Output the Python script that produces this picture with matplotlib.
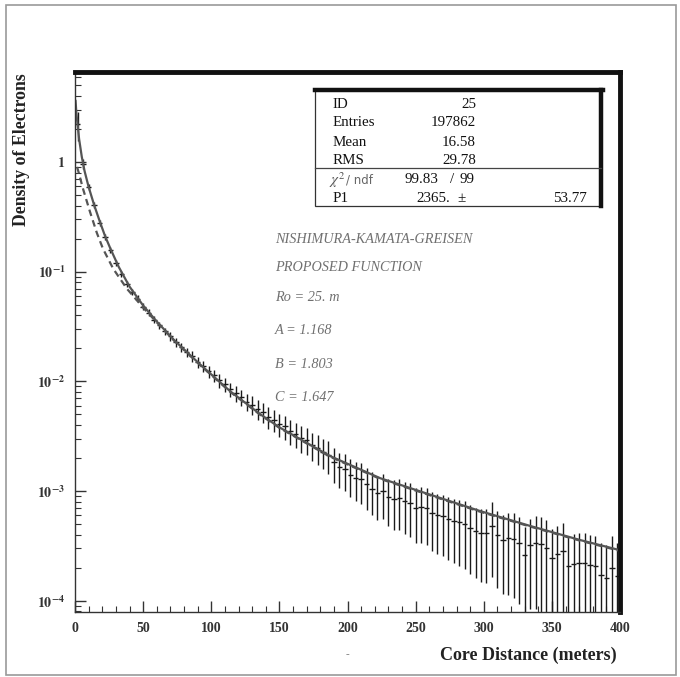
import numpy as np
import matplotlib
matplotlib.use("Agg")
import matplotlib.pyplot as plt
from matplotlib.patches import Rectangle
from matplotlib.lines import Line2D
from matplotlib.ticker import FixedLocator, FixedFormatter, MultipleLocator, LogLocator, NullFormatter

plt.rcParams['font.family'] = ['Liberation Serif', 'DejaVu Serif']
plt.rcParams['mathtext.fontset'] = 'stix'

# bin centres (4 m bins, 0-400 m)
bin_centers = np.arange(2, 400, 4)

# electron density per bin
density = [
    2.216, 0.959, 0.592, 0.4065, 0.279, 0.208, 0.1585, 0.1207, 0.0959, 0.0778,
    0.0658, 0.0568, 0.0481, 0.0424, 0.0366, 0.0323, 0.0285, 0.0257, 0.0226, 0.0204,
    0.01835, 0.01688, 0.01488, 0.01369, 0.01233, 0.01134, 0.01021, 0.00939, 0.00846, 0.00778,
    0.00715, 0.00652, 0.00615, 0.00558, 0.00525, 0.00475, 0.00447, 0.00405, 0.00390, 0.00352,
    0.00332, 0.00306, 0.00293, 0.00264, 0.00248, 0.00228, 0.00214, 0.00184, 0.00165, 0.00158,
    0.00141, 0.00132, 0.00128, 0.00115, 0.00105, 0.000965, 0.001, 0.000882, 0.000846, 0.000864,
    0.000811, 0.000778, 0.0007, 0.000715, 0.000698, 0.000631, 0.000605, 0.000592, 0.000556, 0.000534,
    0.000523, 0.000501, 0.000461, 0.000433, 0.000415, 0.000412, 0.00048, 0.000398, 0.000358, 0.000374,
    0.000366, 0.000337, 0.000262, 0.000323, 0.000335, 0.00033, 0.000303, 0.000246, 0.000268, 0.000285,
    0.000208, 0.000217, 0.000222, 0.00022, 0.000212, 0.000207, 0.000172, 0.000162, 0.0002, 0.000169,
]

# relative size of the error bars
rel_err = [
    0.30, 0.10, 0.06, 0.06, 0.06, 0.06, 0.06, 0.06, 0.06, 0.06,
    0.06, 0.07, 0.07, 0.07, 0.08, 0.08, 0.08, 0.09, 0.09, 0.10,
    0.10, 0.11, 0.11, 0.12, 0.13, 0.13, 0.14, 0.15, 0.15, 0.16,
    0.17, 0.18, 0.19, 0.20, 0.21, 0.22, 0.23, 0.24, 0.25, 0.26,
    0.26, 0.27, 0.28, 0.29, 0.30, 0.31, 0.33, 0.35, 0.36, 0.37,
    0.38, 0.39, 0.40, 0.41, 0.42, 0.43, 0.44, 0.46, 0.48, 0.49,
    0.50, 0.51, 0.52, 0.53, 0.54, 0.55, 0.56, 0.57, 0.58, 0.59,
    0.60, 0.61, 0.62, 0.63, 0.64, 0.65, 0.66, 0.67, 0.68, 0.70,
    0.71, 0.72, 0.80, 0.74, 0.75, 0.76, 0.78, 0.85, 0.80, 0.81,
    0.88, 0.86, 0.86, 0.87, 0.88, 0.90, 0.95, 0.97, 0.93, 0.98,
]

# fitted "proposed function" (solid)
fit_x = [0.4, 1, 2, 3, 5, 7, 10, 14, 18, 22, 26, 32, 40, 50, 60, 73, 92, 114, 136, 150,
         187, 224, 261, 297, 334, 371, 400]
fit_y = [3.6, 2.8, 2.12, 1.62, 1.11, 0.828, 0.592, 0.4065, 0.291, 0.212, 0.162, 0.111,
         0.0731, 0.0491, 0.0351, 0.0236, 0.0142, 0.0081, 0.00501, 0.00381,
         0.00209, 0.00131, 0.000924, 0.000659, 0.000481, 0.000357, 0.000289]

# Nishimura-Kamata-Greisen (dashed)
nkg_x = [1.5, 3, 5.9, 11, 16, 20.5, 28, 38, 50, 60, 73, 92, 114, 136, 150,
         187, 224, 261, 297, 334, 371, 400]
nkg_y = [0.90, 0.778, 0.568, 0.351, 0.226, 0.162, 0.1065, 0.0701, 0.047, 0.0345, 0.0233,
         0.0140, 0.0080, 0.00495, 0.00377, 0.00206, 0.00129, 0.000912, 0.00065, 0.000475,
         0.000352, 0.000285]

W, H = 680, 677
fig = plt.figure(figsize=(W / 100, H / 100), dpi=100)
fig.patch.set_facecolor('white')


def fx(px):
    return px / W


def fy(py):
    return 1 - py / H


ax = fig.add_axes([fx(75), fy(612), 545 / W, 540 / H])

dens = np.array(density)
err = dens * np.array(rel_err)
lower = np.minimum(err, dens - 1e-6)
ax.errorbar(bin_centers, dens, yerr=[lower, err], xerr=2, fmt='none',
            ecolor='#1a1a1a', elinewidth=1.0, capsize=0)

ax.plot(fit_x, fit_y, color='#555555', lw=1.6)
ax.plot(nkg_x, nkg_y, color='#555555', lw=1.6, dashes=(3, 2))

ax.set_yscale('log')
ax.set_xlim(0, 400)
ax.set_ylim(7.9e-5, 6.6)

ax.xaxis.set_major_locator(MultipleLocator(50))
ax.xaxis.set_minor_locator(MultipleLocator(10))
ax.yaxis.set_major_locator(FixedLocator([1e-4, 1e-3, 1e-2, 1e-1, 1]))
ax.yaxis.set_major_formatter(FixedFormatter([r'$\mathbf{10^{-4}}$', r'$\mathbf{10^{-3}}$',
                                             r'$\mathbf{10^{-2}}$', r'$\mathbf{10^{-1}}$',
                                             r'$\mathbf{1}$']))
ax.yaxis.set_minor_locator(LogLocator(base=10, subs=np.arange(2, 10)))
ax.yaxis.set_minor_formatter(NullFormatter())

ax.tick_params(which='both', direction='in', top=False, right=False, colors='#333333')
ax.tick_params(which='major', length=8, width=1.0, labelsize=10)
ax.tick_params(which='minor', length=4, width=0.8)
ax.tick_params(axis='x', pad=7)
ax.tick_params(axis='y', pad=7)
for lab in ax.get_xticklabels():
    lab.set_fontweight('bold')

for s in ['left', 'bottom']:
    ax.spines[s].set_linewidth(1.0)
    ax.spines[s].set_color('#333333')
for s in ['top', 'right']:
    ax.spines[s].set_linewidth(3.5)
    ax.spines[s].set_color('#111111')

# axis titles
fig.text(fx(22), fy(150), 'Density of Electrons', rotation=90, ha='center', va='center',
         fontsize=12.8, fontweight='bold', color='#222222')
fig.text(fx(617), fy(655), 'Core Distance (meters)', ha='right', va='center',
         fontsize=13, fontweight='bold', color='#222222')
fig.text(fx(347), fy(655), '-', ha='center', va='center', fontsize=8, color='#777777')

# annotations
notes = ['NISHIMURA-KAMATA-GREISEN', 'PROPOSED FUNCTION', 'Ro = 25. m',
         'A = 1.168', 'B = 1.803', 'C = 1.647']
note_y = [240, 268, 298, 330, 364, 397]
for t, yy in zip(notes, note_y):
    fig.text(fx(275), fy(yy), t, ha='left', va='center', fontsize=10.3,
             style='italic', color='#707070')

# statistics box
box_l, box_r, box_t, box_b = 315, 601, 90, 206
fig.add_artist(Rectangle((fx(box_l), fy(box_b)), (box_r - box_l) / W, (box_b - box_t) / H,
                         transform=fig.transFigure, facecolor='white',
                         edgecolor='#333333', lw=0.9))
fig.add_artist(Line2D([fx(box_l), fx(box_r + 2)], [fy(box_t), fy(box_t)],
                      transform=fig.transFigure, color='#111111', lw=3.2))
fig.add_artist(Line2D([fx(box_r), fx(box_r)], [fy(box_t), fy(box_b)],
                      transform=fig.transFigure, color='#111111', lw=3.2))
fig.add_artist(Line2D([fx(box_l), fx(box_r)], [fy(168), fy(168)],
                      transform=fig.transFigure, color='#444444', lw=0.9))

fs = 10.8
stat_names = ['ID', 'Entries', 'Mean', 'RMS']
stat_vals = ['25', '197862', '16.58', '29.78']
stat_y = [104, 123, 142, 161]
for n, v, yy in zip(stat_names, stat_vals, stat_y):
    fig.text(fx(333), fy(yy), n, ha='left', va='center', fontsize=fs, color='#111111')
    fig.text(fx(476), fy(yy), v, ha='right', va='center', fontsize=fs, color='#111111')

fig.text(fx(329), fy(180), r'$\chi^2$', ha='left', va='center', fontsize=fs, color='#555555')
fig.text(fx(346), fy(180), '/ ndf', ha='left', va='center', fontsize=8.5,
         family='DejaVu Sans', color='#666666')
fig.text(fx(438), fy(180), '99.83', ha='right', va='center', fontsize=fs, color='#111111')
fig.text(fx(452), fy(180), '/', ha='center', va='center', fontsize=fs, color='#111111')
fig.text(fx(475), fy(180), '99', ha='right', va='center', fontsize=fs, color='#111111')
fig.text(fx(333), fy(198), 'P1', ha='left', va='center', fontsize=fs, color='#111111')
fig.text(fx(450), fy(198), '2365.', ha='right', va='center', fontsize=fs, color='#111111')
fig.text(fx(461), fy(198), '\u00b1', ha='center', va='center', fontsize=fs, color='#111111')
fig.text(fx(587), fy(198), '53.77', ha='right', va='center', fontsize=fs, color='#111111')

# scan border
fig.add_artist(Rectangle((fx(6), fy(675)), 670 / W, 670 / H, transform=fig.transFigure,
                         facecolor='none', edgecolor='#9a9a9a', lw=1.2))

fig.savefig('out.png', dpi=100)
